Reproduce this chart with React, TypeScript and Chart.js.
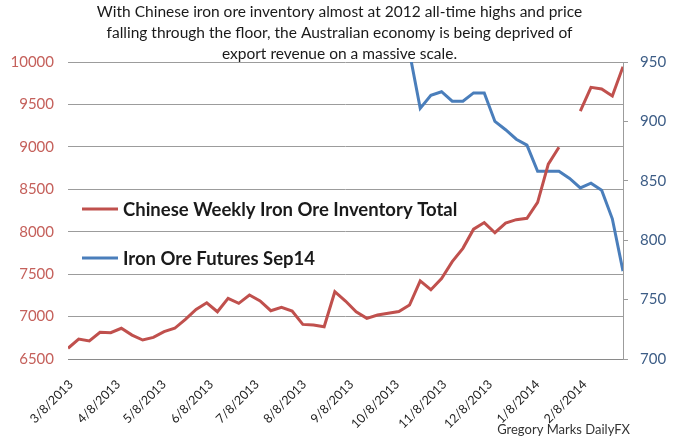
import React, { useEffect, useRef } from 'react';
import { Chart, registerables } from 'chart.js';

Chart.register(...registerables);

// ---- data ----
const weekDates: string[] = [
  '2013-03-08', '2013-03-15', '2013-03-22', '2013-03-29',
  '2013-04-05', '2013-04-12', '2013-04-19', '2013-04-26',
  '2013-05-03', '2013-05-10', '2013-05-17', '2013-05-24', '2013-05-31',
  '2013-06-07', '2013-06-14', '2013-06-21', '2013-06-28',
  '2013-07-05', '2013-07-12', '2013-07-19', '2013-07-26',
  '2013-08-02', '2013-08-09', '2013-08-16', '2013-08-23', '2013-08-30',
  '2013-09-06', '2013-09-13', '2013-09-20', '2013-09-27',
  '2013-10-04', '2013-10-11', '2013-10-18', '2013-10-25',
  '2013-11-01', '2013-11-08', '2013-11-15', '2013-11-22', '2013-11-29',
  '2013-12-06', '2013-12-13', '2013-12-20', '2013-12-27',
  '2014-01-03', '2014-01-10', '2014-01-17', '2014-01-24', '2014-01-31',
  '2014-02-07', '2014-02-14', '2014-02-21', '2014-02-28',
  '2014-03-07',
];

const inventory: (number | null)[] = [
  6626, 6735, 6712, 6814,
  6810, 6862, 6782, 6724,
  6755, 6822, 6862, 6967, 7085,
  7163, 7057, 7215, 7156,
  7254, 7185, 7069, 7109,
  7065, 6908, 6900, 6880, 7293,
  7183, 7057, 6979, 7018,
  7038, 7060, 7136, 7420,
  7317, 7448, 7647, 7804, 8030,
  8108, 7988, 8102, 8142,
  8158, 8345, 8796, 8995, null,
  9422, 9702, 9682, 9599,
  9945,
];

const futures: (number | null)[] = [
  null, null, null, null,
  null, null, null, null,
  null, null, null, null, null,
  null, null, null, null,
  null, null, null, null,
  null, null, null, null, null,
  null, null, null, null,
  null, null, 958, 911,
  922, 925, 917, 917, 924,
  924, 900, 893, 885,
  880, 858, 858, 858, 852,
  844, 848, 842, 818,
  774,
];

const monthTickLabels: string[] = [
  '3/8/2013', '4/8/2013', '5/8/2013', '6/8/2013', '7/8/2013', '8/8/2013',
  '9/8/2013', '10/8/2013', '11/8/2013', '12/8/2013', '1/8/2014', '2/8/2014',
];

const seriesNames = ['Chinese Weekly Iron Ore Inventory Total', 'Iron Ore Futures Sep14'];
const titleLines = [
  'With Chinese iron ore inventory almost at 2012 all-time highs and price',
  'falling through the floor, the Australian economy is being deprived of',
  'export revenue on a massive scale.',
];
const creditText = 'Gregory Marks DailyFX';

// ---- helpers ----
const DAY = 86400000;
const startMs = Date.UTC(2013, 2, 8);
const dayOfIso = (s: string) => {
  const [y, m, d] = s.split('-').map(Number);
  return Math.round((Date.UTC(y, m - 1, d) - startMs) / DAY);
};
const dayOfMdy = (s: string) => {
  const [m, d, y] = s.split('/').map(Number);
  return Math.round((Date.UTC(y, m - 1, d) - startMs) / DAY);
};

const RED = '#C0504D';
const BLUE = '#4A7EBB';
const GRID = '#9C9C9C';
const FONT = 'Lato, "Open Sans", sans-serif';

const overlayPlugin = {
  id: 'overlay',
  afterDraw(chart: any) {
    const { ctx, chartArea } = chart;
    ctx.save();
    // legend inside plot area
    const items = chart.data.datasets.map((ds: any, i: number) => ({
      label: ds.label,
      color: ds.borderColor,
      y: chartArea.top + (i === 0 ? 147 : 196),
    }));
    items.forEach((it: any) => {
      ctx.strokeStyle = it.color;
      ctx.lineWidth = 3;
      ctx.beginPath();
      ctx.moveTo(chartArea.left + 14, it.y);
      ctx.lineTo(chartArea.left + 50, it.y);
      ctx.stroke();
      ctx.fillStyle = '#1a1a1a';
      ctx.font = `bold 18.5px ${FONT}`;
      ctx.textAlign = 'left';
      ctx.textBaseline = 'middle';
      ctx.fillText(it.label, chartArea.left + 55, it.y + 1);
    });
    // credit
    ctx.fillStyle = '#333333';
    ctx.font = `13px ${FONT}`;
    ctx.textAlign = 'right';
    ctx.textBaseline = 'middle';
    ctx.fillText(creditText, chartArea.right + 7, chartArea.bottom + 71);
    ctx.restore();
  },
};

export default function App() {
  const canvasRef = useRef<HTMLCanvasElement | null>(null);

  useEffect(() => {
    document.body.style.margin = '0';
    const canvas = canvasRef.current;
    if (!canvas) return;
    const labelByDay: Record<number, string> = {};
    monthTickLabels.forEach((l) => { labelByDay[dayOfMdy(l)] = l; });

    const chart = new Chart(canvas, {
      type: 'line',
      data: {
        datasets: [
          {
            label: seriesNames[0],
            data: weekDates.map((d, i) => ({ x: dayOfIso(d), y: inventory[i] })) as any,
            borderColor: RED,
            backgroundColor: RED,
            borderWidth: 3,
            pointRadius: 0,
            tension: 0,
            spanGaps: false,
            yAxisID: 'y',
          },
          {
            label: seriesNames[1],
            data: weekDates.map((d, i) => ({ x: dayOfIso(d), y: futures[i] })) as any,
            borderColor: BLUE,
            backgroundColor: BLUE,
            borderWidth: 3,
            pointRadius: 0,
            tension: 0,
            spanGaps: false,
            yAxisID: 'y1',
          },
        ],
      },
      options: {
        responsive: false,
        animation: false,
        devicePixelRatio: 1,
        layout: { padding: 0 },
        plugins: {
          legend: { display: false },
          tooltip: { enabled: false },
          title: {
            display: true,
            text: titleLines,
            color: '#1a1a1a',
            font: { family: FONT, size: 15.5, weight: 'normal', lineHeight: 1.355 },
            padding: { top: 1.5, bottom: -2.5 },
          },
        },
        scales: {
          x: {
            type: 'linear',
            min: 0,
            max: dayOfIso(weekDates[weekDates.length - 1]),
            afterBuildTicks: (scale: any) => {
              scale.ticks = monthTickLabels.map((l) => ({ value: dayOfMdy(l) }));
            },
            ticks: {
              autoSkip: false,
              maxRotation: 45,
              minRotation: 45,
              padding: 10,
              labelOffset: 3,
              color: '#222222',
              font: { family: FONT, size: 12.5 },
              callback: (v: any) => labelByDay[v] ?? '',
            },
            grid: { display: false },
            border: { display: true, color: '#8A8A8A', width: 1 },
            afterFit: (s: any) => { s.height = 87; },
          },
          y: {
            position: 'left',
            min: 6500,
            max: 10000,
            ticks: {
              stepSize: 500,
              color: '#C5605B',
              padding: 14,
              font: { family: FONT, size: 15 },
              callback: (v: any) => String(v),
            },
            grid: { color: GRID, lineWidth: 1, drawTicks: false },
            border: { display: false },
            afterFit: (s: any) => { s.width = 68; },
          },
          y1: {
            position: 'right',
            min: 700,
            max: 950,
            ticks: {
              stepSize: 50,
              color: '#3D5D86',
              padding: 12,
              font: { family: FONT, size: 15 },
              callback: (v: any) => String(v),
            },
            grid: { drawOnChartArea: false, drawTicks: true, tickLength: 5, color: GRID },
            border: { display: true, color: GRID, width: 1 },
            afterFit: (s: any) => { s.width = 56; },
          },
        },
      } as any,
      plugins: [overlayPlugin],
    });
    return () => chart.destroy();
  }, []);

  return (
    <div style={{ width: 679, height: 446, background: '#ffffff' }}>
      <canvas ref={canvasRef} width={679} height={446} />
    </div>
  );
}
